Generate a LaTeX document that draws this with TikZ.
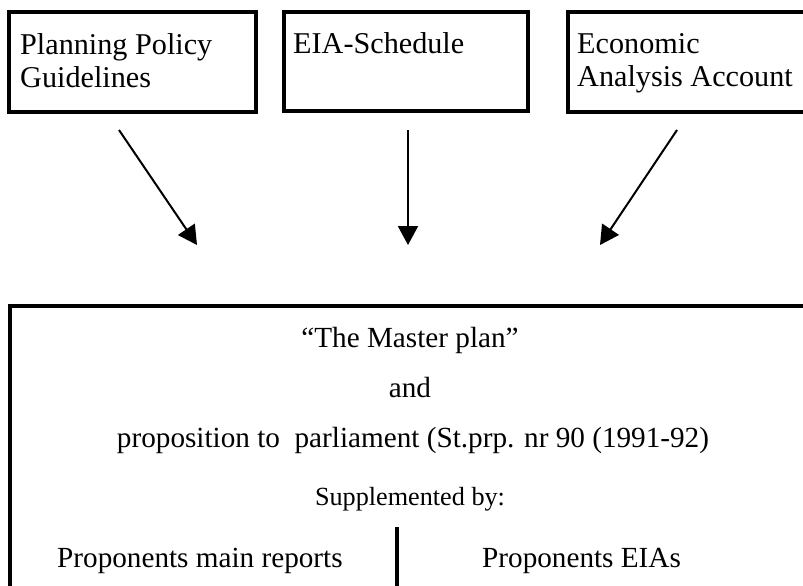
\documentclass[tikz,border=0pt]{standalone}
\usepackage{fontspec}
\setmainfont{Liberation Serif}
\usetikzlibrary{arrows.meta}
\begin{document}
\begin{tikzpicture}[x=1pt,y=-1pt,
  frame/.style={draw, line width=4pt, outer sep=0pt, inner sep=0pt, anchor=north west},
  boxtxt/.style={inner sep=0pt, font=\fontsize{30.2}{32}\selectfont},
  txt/.style={inner sep=0pt, font=\fontsize{29.2}{32}\selectfont},
  smalltxt/.style={inner sep=0pt, font=\fontsize{26.2}{30}\selectfont},
  link/.style={line width=2pt, -{Triangle[length=19pt,width=20pt]}},
  divider/.style={line width=4pt}]
\useasboundingbox (0,0) rectangle (803,586);
\fill[white] (0,0) rectangle (803,586);
\clip (0,0) rectangle (803,586);
% top boxes
\node[frame, minimum width=247pt, minimum height=100pt] (b1) at (9,12) {};
\node[frame, minimum width=244pt, minimum height=99pt] (b2) at (284,12) {};
\node[frame, minimum width=300pt, minimum height=100pt] (b3) at (568,12) {};
\node[boxtxt, anchor=base west] (t1a) at (20,55) {Planning Policy};
\node[boxtxt, anchor=base west] (t1b) at (20,87) {Guidelines};
\node[boxtxt, anchor=base west] (t2) at (293,54) {EIA-Schedule};
\node[boxtxt, anchor=base west] (t3a) at (577,54) {Economic};
\node[boxtxt, anchor=base west] (t3b) at (577,86) {Analysis Account};
% arrows
\coordinate (s1) at (119,130); \coordinate (e1) at (197,245);
\coordinate (s2) at (408,130); \coordinate (e2) at (408,245);
\coordinate (s3) at (677,130); \coordinate (e3) at (600,245);
\draw[link] (s1) -- (e1);
\draw[link] (s2) -- (e2);
\draw[link] (s3) -- (e3);
% master box
\node[frame, minimum width=900pt, minimum height=400pt] (master) at (10,306) {};
\node[txt, anchor=base] (m1) at (410,347) {“The Master plan”};
\node[txt, anchor=base] (m2) at (410,397) {and};
\node[txt, anchor=base] (m3) at (413,447) {proposition to\ \ parliament (St.prp. nr 90 (1991-92)};
\node[smalltxt, anchor=base] (m4) at (410,505) {Supplemented by:};
\coordinate (d1) at (397,527); \coordinate (d2) at (397,600);
\draw[divider] (d1) -- (d2);
\node[txt, anchor=base west] (p1) at (57,567) {Proponents main reports};
\node[txt, anchor=base west] (p2) at (482,567) {Proponents EIAs};
\end{tikzpicture}
\end{document}
